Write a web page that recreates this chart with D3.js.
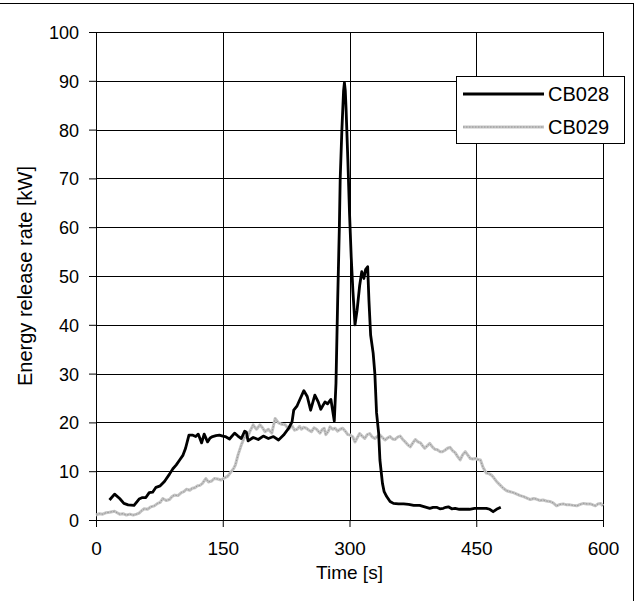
<!DOCTYPE html>
<html><head><meta charset="utf-8">
<script src="https://cdn.jsdelivr.net/npm/d3@7"></script>
<style>
html,body{margin:0;padding:0;background:#fff;}
text{font-family:Arial,"Liberation Sans",sans-serif;fill:#000;}
</style></head>
<body><svg id="c" width="635" height="601"></svg>
<script>
const xTicks = [0,150,300,450,600];
const yTicks = [0,10,20,30,40,50,60,70,80,90,100];
const seriesNames = ["CB028","CB029"];
const t28 = [16,22,28,33,38,45,51,55,59,63,67,71,76,81,87,91,95,99,103,106,110,114,118,121,125,128,132,135,138,142,146,150,153,158,164,168,172,176,178,180,186,192,198,204,210,216,222,228,232,234,238,241,246,250,254,259,263,266,271,274,278,282,284,286,288,289,291,293,294,295,296,298,300,302,304,306.5,309,312,314.5,317,319,321.5,323,325,328,330,332,334.5,336,339,341,344,348,352,358,364,370,376,383,389,395,399,403,407,411,414,417,421,425,430,435,442,448,454,462,466,470,474,479];
const v28 = [4.1,5.3,4.4,3.4,3.1,3.0,4.3,4.6,4.6,5.6,5.7,6.7,7.0,7.9,9.4,10.5,11.3,12.3,13.3,14.7,17.4,17.4,17.1,17.6,15.8,17.6,16.0,16.8,17.1,17.3,17.4,17.2,17.1,16.6,17.8,17.2,16.7,18.2,18.0,16.2,16.9,16.5,17.2,16.7,17.1,16.4,17.4,18.8,20.1,22.5,23.4,24.6,26.5,25.3,22.5,25.6,24.2,22.7,24.2,23.8,24.7,20.3,28,45,60,70,80,88,89.6,88,84,74,63,54,47,40,43,48,50.9,49.5,51.3,51.9,45,37.9,34.2,30,22,17.8,12.3,7.5,5.8,4.8,3.8,3.4,3.3,3.3,3.2,3.0,3.0,2.7,2.4,2.6,2.6,2.3,2.4,2.6,2.7,2.3,2.4,2.2,2.2,2.2,2.4,2.4,2.4,2.2,1.7,2.2,2.6];
const t29 = [0,4,8,12,16,22,25,28,32,36,40,44,48,51,54,57,61,65,69,73,76,79,83,87,90,93,97,101,104,107,111,114,117,120,123,126,128,130,133,137,140,144,148,152,156,160,163,165,168,172,176,179,182,186,188,190,194,197,200,204,208,212,216,220,224,228,232,235,238,241,243,246,249,252,255,258,261,265,268,270,272,275,277,280,283,286,289,292,295,298,301,304,306.5,309,312,315,318,321,324,327,330,333,336,339,342,345,348,351,354,357,360,363,366,369,372,375,378,381,384,387,389,392,395,398,401,404,407,410,413,416,419,422,425,428,431,434,437,440,443,446,449,452,455,458,462,465,468,471,474,478,482,486,490,494,498,502,506,510,514,518,521,525,529,533,537,541,545,549,553,557,561,565,569,573,577,581,585,588,591,594,597,600];
const v29 = [1.0,1.3,1.2,1.5,1.6,1.8,1.5,1.2,1.3,1.0,1.2,1.0,1.2,1.4,1.9,2.3,2.2,2.7,2.9,3.4,3.6,4.4,4.0,4.2,4.8,5.1,5.0,5.6,5.8,6.3,6.1,6.5,6.6,7.0,7.1,7.5,8.0,8.5,7.8,8.0,8.5,8.4,8.2,8.6,9.0,9.9,10.6,11.3,13.3,15.4,17.1,16.8,18.1,19.5,19.0,18.6,19.5,18.9,18.1,18.6,17.8,20.8,19.9,19.6,19.5,18.6,19.3,18.4,18.6,19.2,18.6,19.0,18.8,18.4,18.1,18.9,18.6,17.8,18.6,18.8,17.5,18.2,19.1,18.6,18.8,18.2,18.6,18.8,18.2,17.5,17.4,17.0,16.0,16.8,17.7,17.2,16.7,17.5,17.7,17.0,16.7,17.1,17.4,16.9,16.4,16.8,17.1,16.6,16.5,17.0,17.2,16.5,16.0,15.4,15.0,15.8,16.5,16.0,15.8,15.1,14.7,15.2,15.7,15.0,14.5,14.4,14.0,14.0,14.3,14.7,14.9,14.2,13.8,13.0,12.3,13.4,14.0,13.3,12.6,12.5,12.6,12.4,12.3,10.8,9.6,9.5,9.2,8.6,7.9,7.2,6.5,6.0,5.8,5.6,5.3,5.0,4.8,4.5,4.2,4.4,4.3,4.0,4.1,3.9,3.8,3.5,2.9,3.2,3.3,3.1,3.1,3.0,2.9,3.2,3.4,3.3,3.3,3.1,2.9,3.3,3.4,2.9];

const svg = d3.select("#c");
const L = 96, R = 603, T = 32, B = 520;
const x = d3.scaleLinear().domain([0,600]).range([L,R]);
const y = d3.scaleLinear().domain([0,100]).range([B,T]);

// outer frame (top and right edges visible)
svg.append("line").attr("x1",0).attr("x2",634).attr("y1",3.5).attr("y2",3.5).attr("stroke","#000");
svg.append("line").attr("x1",633.5).attr("x2",633.5).attr("y1",3).attr("y2",601).attr("stroke","#000");

// grid
const g = svg.append("g");
yTicks.forEach(v => {
  const yy = Math.round(y(v)) + 0.5;
  g.append("line").attr("x1",L).attr("x2",R).attr("y1",yy).attr("y2",yy).attr("stroke","#000").attr("stroke-width",1);
});
xTicks.slice(1).forEach(v => {
  const xx = Math.round(x(v)) + 0.5;
  g.append("line").attr("x1",xx).attr("x2",xx).attr("y1",T).attr("y2",B).attr("stroke","#000").attr("stroke-width",1);
});

// axes
const ya = svg.append("g").attr("transform",`translate(${L},0)`)
  .call(d3.axisLeft(y).tickValues(yTicks).tickSize(7).tickSizeOuter(0).tickPadding(10));
ya.selectAll("text").style("font-size","18px").attr("dy","0.36em");
const xa = svg.append("g").attr("transform",`translate(0,${B})`)
  .call(d3.axisBottom(x).tickValues(xTicks).tickSize(7).tickSizeOuter(0).tickPadding(15));
xa.selectAll("text").style("font-size","19px");
svg.selectAll(".domain").attr("stroke","#000");
svg.selectAll(".tick line").attr("stroke","#000");

// series
const line = d3.line().x(d=>x(d[0])).y(d=>y(d[1])).curve(d3.curveLinear);
const d29 = t29.map((t,i)=>[t,v29[i]]);
const d28 = t28.map((t,i)=>[t,v28[i]]);
svg.append("path").attr("d",line(d29)).attr("fill","none").attr("stroke","#c4c4c4").attr("stroke-width",3).attr("stroke-linejoin","round");
svg.append("path").attr("d",line(d29)).attr("fill","none").attr("stroke","#969696").attr("stroke-width",1).attr("stroke-dasharray","1.5,1.5");
svg.append("path").attr("d",line(d28)).attr("fill","none").attr("stroke","#000").attr("stroke-width",2.8).attr("stroke-linejoin","round");

// titles
svg.append("text").attr("x",(L+R)/2).attr("y",579).attr("text-anchor","middle").style("font-size","19px").text("Time [s]");
svg.append("text").attr("transform",`translate(32,${(T+B)/2}) rotate(-90)`).attr("text-anchor","middle").style("font-size","20px").text("Energy release rate [kW]");

// legend
const lg = svg.append("g");
lg.append("rect").attr("x",456.5).attr("y",76.5).attr("width",168).attr("height",67).attr("fill","#fff").attr("stroke","#000");
lg.append("line").attr("x1",463).attr("x2",544).attr("y1",94).attr("y2",94).attr("stroke","#000").attr("stroke-width",2.8);
lg.append("line").attr("x1",463).attr("x2",544).attr("y1",127).attr("y2",127).attr("stroke","#c4c4c4").attr("stroke-width",3);
lg.append("line").attr("x1",463).attr("x2",544).attr("y1",127).attr("y2",127).attr("stroke","#969696").attr("stroke-width",1).attr("stroke-dasharray","1.5,1.5");
lg.append("text").attr("x",548).attr("y",101).style("font-size","20px").text(seriesNames[0]);
lg.append("text").attr("x",548).attr("y",134).style("font-size","20px").text(seriesNames[1]);
</script></body></html>
